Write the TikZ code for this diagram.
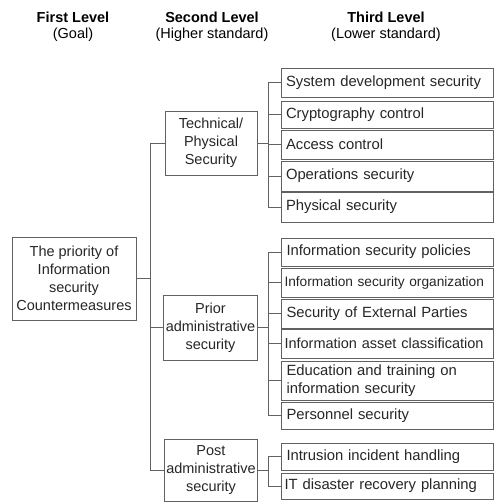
\documentclass[tikz,border=0pt]{standalone}
\usepackage{fontspec}
\setmainfont{Liberation Sans}
\begin{document}
\begin{tikzpicture}[x=1pt,y=-1pt,
  lvl/.style={font=\fontsize{14.5}{17}\selectfont},
  hdr/.style={font=\bfseries\fontsize{14.5}{17}\selectfont},
  box/.style={draw=black!62, line width=0.9pt, align=center, inner sep=2pt,
    font=\fontsize{14.5}{18}\selectfont, text=black!85},
  leaf/.style={draw=black!62, line width=0.9pt, align=left, inner xsep=5pt, inner ysep=1pt,
    text width=202pt, minimum width=212pt, anchor=center,
    font=\fontsize{14.8}{18}\selectfont, text=black!85},
  small/.style={font=\fontsize{13.7}{17}\selectfont, inner xsep=3pt, text width=206pt},
  conn/.style={draw=black!62, line width=0.9pt}
]
\useasboundingbox (0,0) rectangle (497,503);
% headers
\node[hdr] (h1) at (73,17) {First Level};
\node[lvl] (s1) at (73,35) {(Goal)};
\node[hdr] (h2) at (212,17) {Second Level};
\node[lvl] (s2) at (212,35) {(Higher standard)};
\node[hdr] (h3) at (386,17) {Third Level};
\node[lvl] (s3) at (386,35) {(Lower standard)};
% root
\node[box, minimum width=124pt, minimum height=83pt] (root) at (74,278.5)
  {The priority of\\Information\\security\\Countermeasures};
% second level
\node[box, minimum width=92pt, minimum height=64pt] (tech) at (211,143)
  {Technical/\\Physical\\Security};
\node[box, minimum width=93pt, minimum height=65pt] (prior) at (210.5,327.5)
  {Prior\\administrative\\security};
\node[box, minimum width=92pt, minimum height=62pt] (post) at (211,470)
  {Post\\administrative\\security};
% third level: technical
\node[leaf, minimum height=29pt] (t1) at (387,82.5) {System development security};
\node[leaf, minimum height=27pt] (t2) at (387,114.5) {Cryptography control};
\node[leaf, minimum height=29pt] (t3) at (387,144.5) {Access control};
\node[leaf, minimum height=30pt] (t4) at (387,176) {Operations security};
\node[leaf, minimum height=30pt] (t5) at (387,207) {Physical security};
% third level: prior
\node[leaf, minimum height=28pt] (p1) at (387.5,252) {Information security policies};
\node[leaf, minimum height=29pt, small] (p2) at (387.5,282.5) {\mbox{Information security organization}};
\node[leaf, minimum height=29pt] (p3) at (387.5,313.5) {Security of External Parties};
\node[leaf, minimum height=29pt, small, font=\fontsize{14.5}{17}\selectfont] (p4) at (387.5,343.5) {\mbox{Information asset classification}};
\node[leaf, minimum height=39pt] (p5) at (387.5,380.5) {Education and training on\\information security};
\node[leaf, minimum height=27pt] (p6) at (387.5,415.5) {Personnel security};
% third level: post
\node[leaf, minimum height=27pt] (q1) at (387.5,456.5) {Intrusion incident handling};
\node[leaf, minimum height=26pt, inner xsep=3pt, text width=206pt] (q2) at (387.5,486) {\mbox{IT disaster recovery planning}};
% trunk
\coordinate (tr) at (150,0);
\path (tr |- tech.west) coordinate (trtop);
\path (tr |- post.west) coordinate (trbot);
\draw[conn] (root.east) -- (tr |- root.east);
\draw[conn] (tech.west) -- (trtop) -- (trbot) -- (post.west);
\draw[conn] (prior.west) -- (tr |- prior.west);
% brackets
\coordinate (bx) at (268,0);
\draw[conn] (tech.east) -- (bx |- tech.east);
\draw[conn] (t1.west) -- (bx |- t1.west) -- (bx |- t5.west) -- (t5.west);
\foreach \n in {t2,t3,t4} \draw[conn] (\n.west) -- (bx |- \n.west);
\draw[conn] (prior.east) -- (bx |- prior.east);
\draw[conn] (p1.west) -- (bx |- p1.west) -- (bx |- p6.west) -- (p6.west);
\foreach \n in {p2,p3,p4,p5} \draw[conn] (\n.west) -- (bx |- \n.west);
\draw[conn] (post.east) -- (bx |- post.east);
\draw[conn] (q1.west) -- (bx |- q1.west) -- (bx |- q2.west) -- (q2.west);
\end{tikzpicture}
\end{document}
